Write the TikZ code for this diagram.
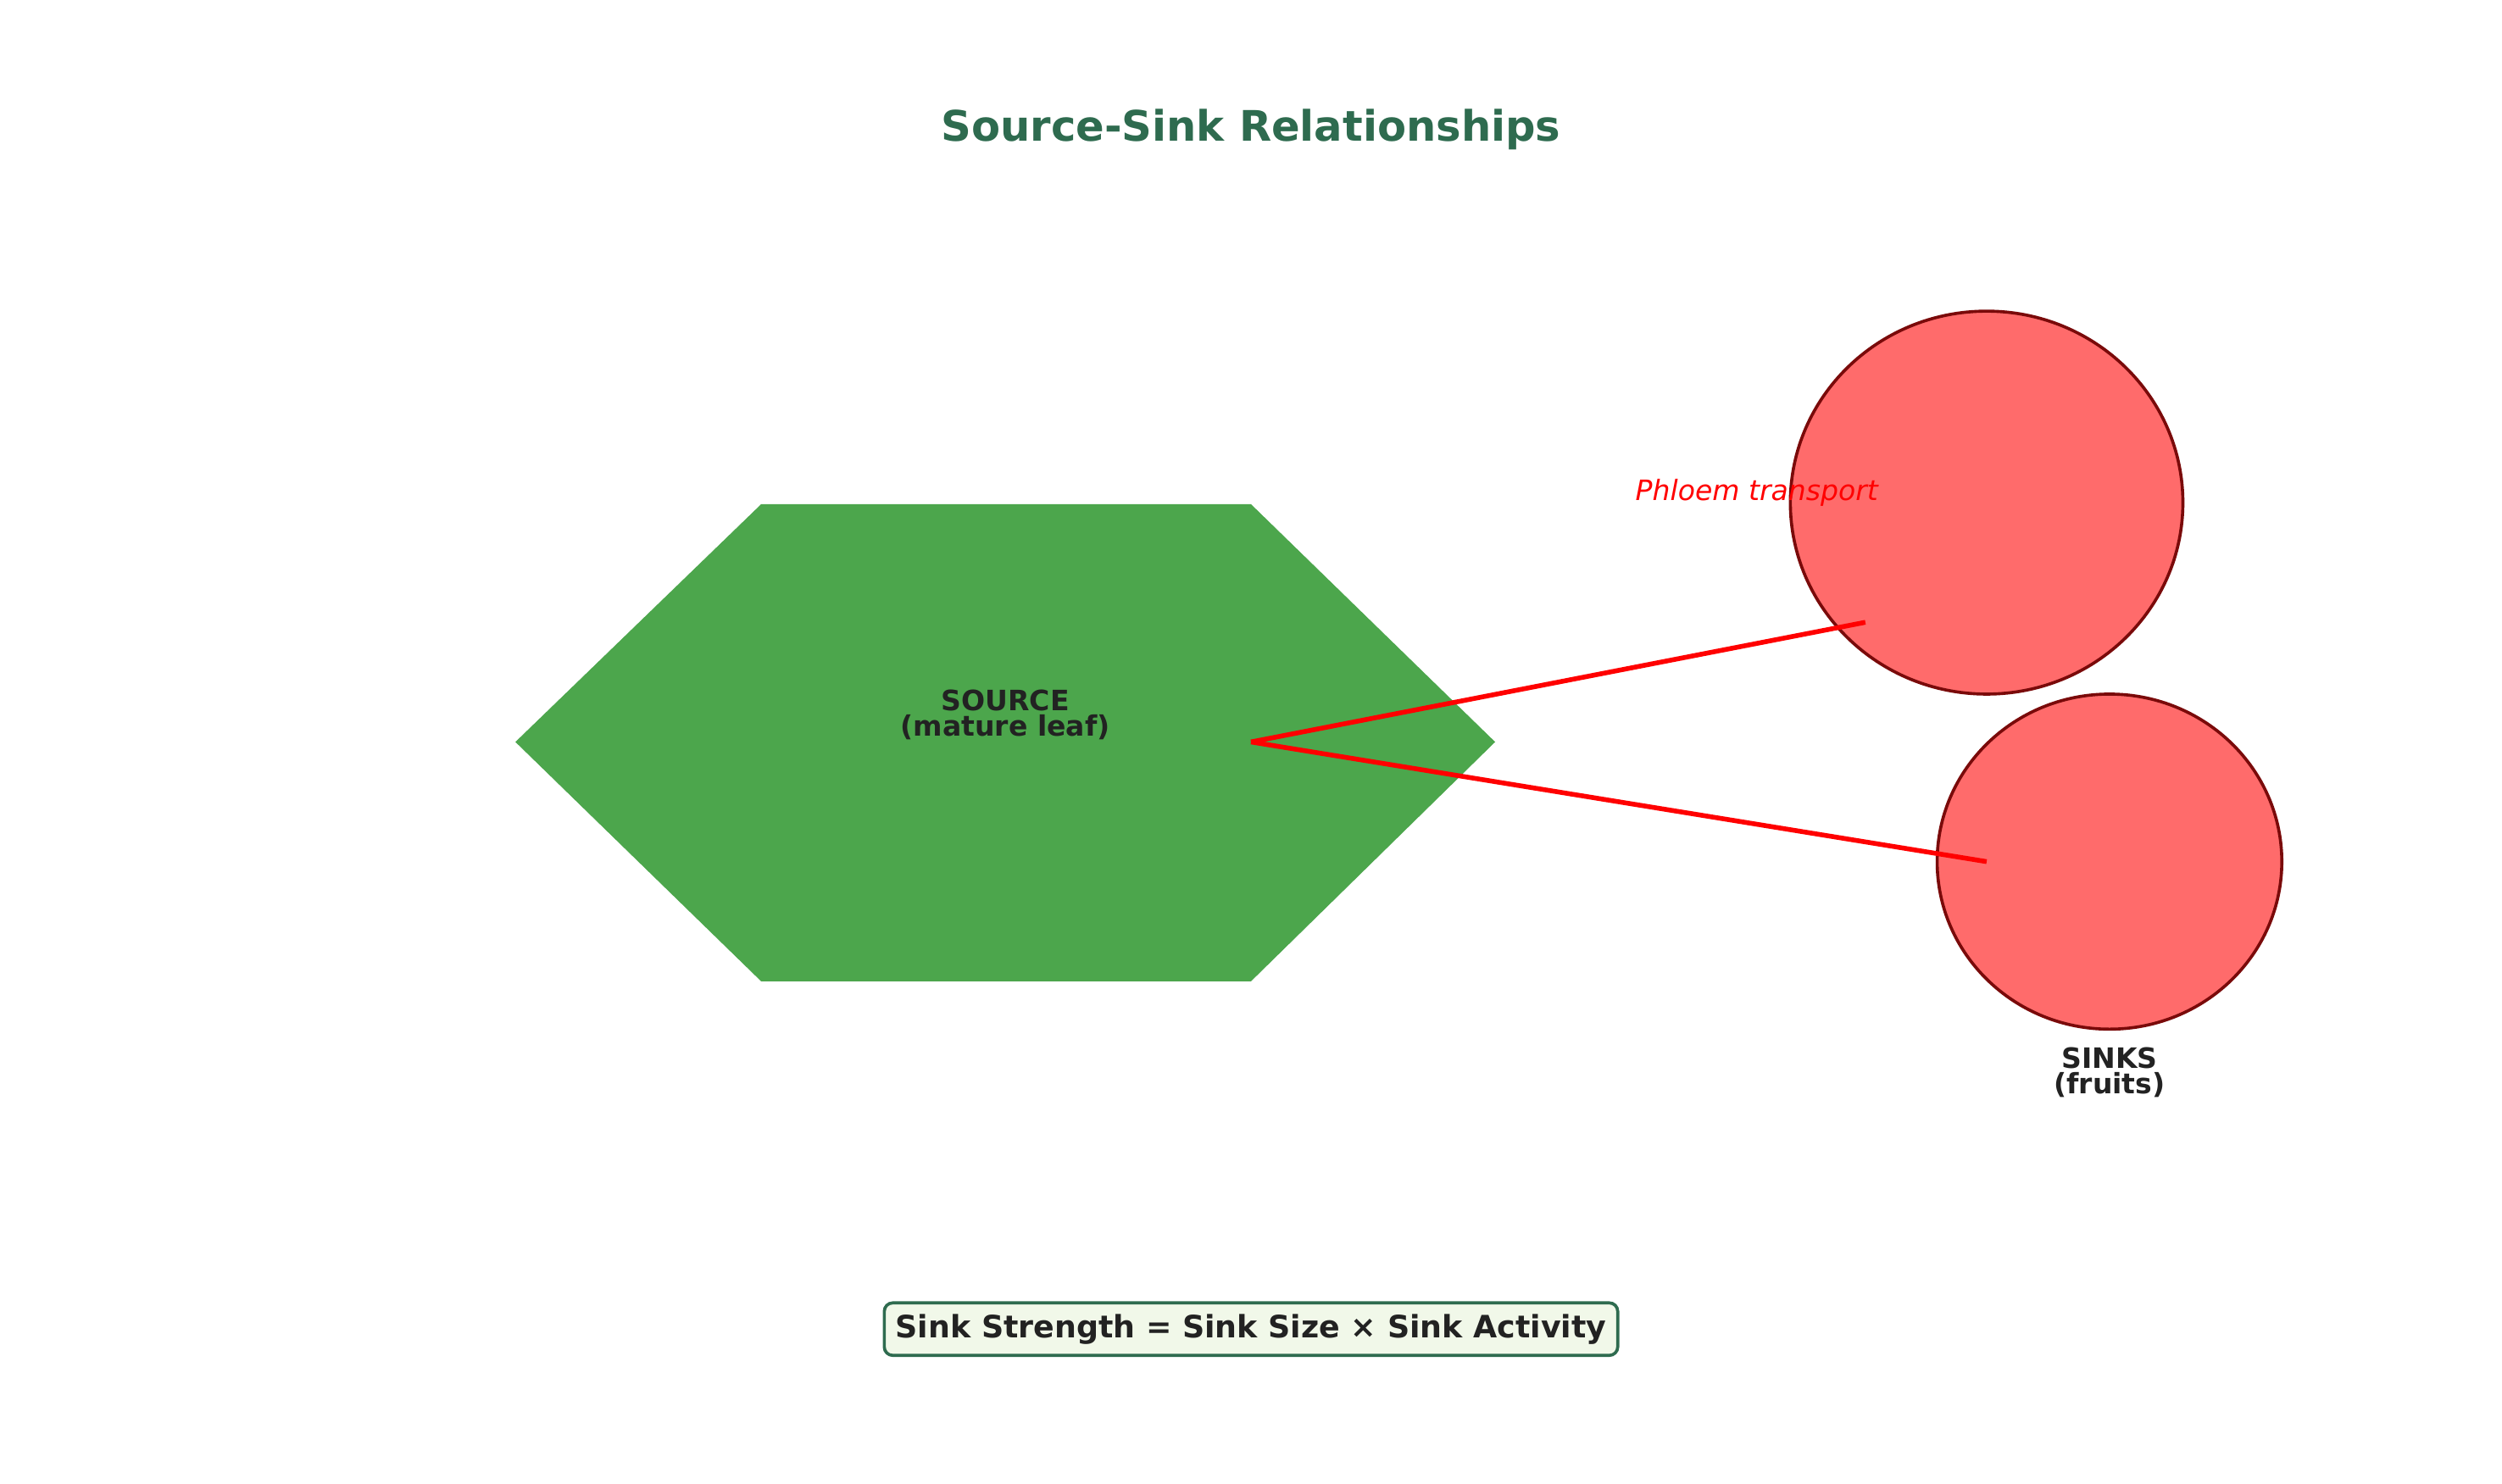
\documentclass[tikz,border=0pt]{standalone}
\usepackage{fontspec}
\setmainfont{DejaVu Sans}
\usetikzlibrary{positioning}
\definecolor{titleCol}{RGB}{46,107,79}
\definecolor{leafCol}{RGB}{76,166,76}
\definecolor{sinkCol}{RGB}{255,107,107}
\definecolor{sinkLine}{RGB}{122,10,10}
\definecolor{boxCol}{RGB}{241,248,233}
\definecolor{txtCol}{RGB}{34,34,34}
\tikzset{mySink/.style={fill=sinkCol, draw=sinkLine, line width=1.1pt}}
\tikzset{myFlow/.style={color=red, line width=1.7pt}}
\tikzset{myLabel/.style={font=\bfseries\fontsize{10}{11}\selectfont, text=txtCol, align=center}}
\begin{document}
\begin{tikzpicture}[x=0.02cm, y=-0.02cm]

	\useasboundingbox (0,0) rectangle (1568,930);
	\node[font=\bfseries\fontsize{15}{18}\selectfont, text=titleCol] (title) at (784,81) {Source-Sink Relationships};

	% source leaf
	\fill[leafCol] (323,465)--(477,316)--(784,316)--(937,465)--(784,615)--(477,615)--cycle;
	\node[myLabel] (source) at (630,448) {SOURCE\\[-2pt](mature leaf)};

	% sinks
	\draw[mySink] (1245,315) ellipse[x radius=123, y radius=120];
	\draw[mySink] (1322,540) ellipse[x radius=108, y radius=105];
	\node[myLabel] (sinks) at (1322,672) {SINKS\\[-2pt](fruits)};

	\coordinate (start) at (784,465);
	\coordinate (endA) at (1169,390);
	\coordinate (endB) at (1245,540);
	\draw[myFlow] (start)--(endA);
	\draw[myFlow] (start)--(endB);
	\node[text=red, font=\itshape\fontsize{10}{12}\selectfont] (phloem) at (1101,309) {Phloem transport};

	\node[draw=titleCol, fill=boxCol, rounded corners=3pt, line width=1.1pt, text=txtCol, font=\bfseries\fontsize{11}{13}\selectfont, inner sep=4pt] (eq) at (784,833) {Sink Strength = Sink Size × Sink Activity};
\end{tikzpicture}
\end{document}
